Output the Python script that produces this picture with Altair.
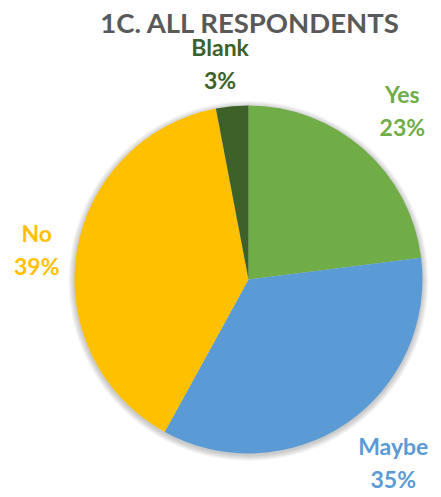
import altair as alt
import pandas as pd

title_text = ["1C. ALL RESPONDENTS"]
categories = ["Yes", "Maybe", "No", "Blank"]
percents = [23, 35, 39, 3]
colors = ["#70AD47", "#5B9BD5", "#FFC000", "#3D6128"]

df = pd.DataFrame({
    "category": categories,
    "percent": percents,
    "order": list(range(len(categories))),
})
df["label"] = [[c, f"{p}%"] for c, p in zip(categories, percents)]

CX, CY, R = 240.5, 271.5, 174
# label nudges (style only)
nudge = {"Blank": (-7.5, -9.5), "Yes": (7, -16.5), "No": (7.5, -9.5), "Maybe": (20, -15.5)}

color = alt.Color("category:N", scale=alt.Scale(domain=categories, range=colors), legend=None)

ring = pd.DataFrame({"v": [1]})
shadows = [
    alt.Chart(ring).mark_arc(radius=R + k, color="#000000", opacity=0.035).encode(
        theta="v:Q", x=alt.value(CX), y=alt.value(CY + 1.5)
    )
    for k in range(1, 7)
]

pie = alt.Chart(df).mark_arc(radius=R).encode(
    theta=alt.Theta("percent:Q", stack=True),
    order=alt.Order("order:Q"),
    color=color,
    x=alt.value(CX),
    y=alt.value(CY),
)

label_base = alt.Chart(df).transform_stack(
    stack="percent", groupby=[], as_=["start", "end"], sort=[alt.SortField("order")]
).transform_calculate(mid="(datum.start + datum.end) / 2")

label_layers = []
for cat in categories:
    dx, dy = nudge[cat]
    label_layers.append(
        label_base.transform_filter(alt.datum.category == cat).mark_text(
            radius=222, fontSize=23, fontWeight="bold", font="Lato", lineHeight=33, dx=dx, dy=dy
        ).encode(
            theta=alt.Theta("mid:Q", stack=None, scale=alt.Scale(domain=[0, 100])),
            text="label",
            color=color,
            x=alt.value(CX),
            y=alt.value(CY),
        )
    )

title = alt.Chart(pd.DataFrame({"t": title_text})).mark_text(
    font="Lato", fontSize=27.5, fontWeight="bold", color="#595959",
    align="center", baseline="alphabetic",
).encode(text="t:N", x=alt.value(241.5), y=alt.value(25))

chart = alt.layer(*shadows, pie, *label_layers, title).properties(
    width=425,
    height=481,
    padding=0,
    autosize=alt.AutoSizeParams(type="none"),
).resolve_scale(theta="independent").configure_view(stroke=None)

chart.save("out.html", embed_options={"renderer": "svg", "actions": False})
